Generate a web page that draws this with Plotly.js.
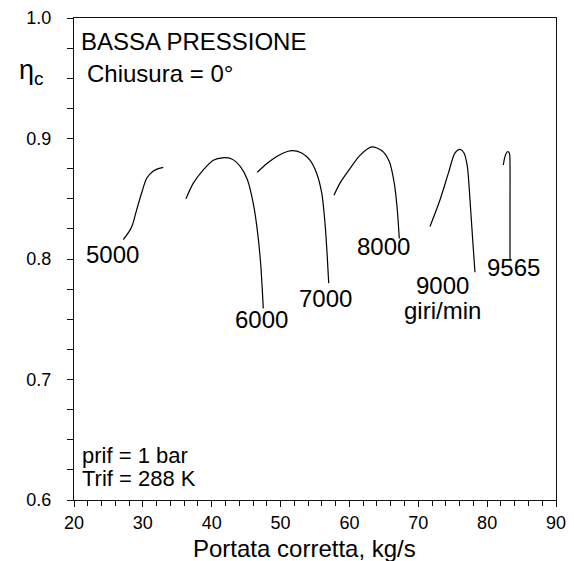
<!DOCTYPE html>
<html>
<head>
<meta charset="utf-8">
<script src="https://cdn.plot.ly/plotly-3.0.1.min.js"></script>
<style>
  html, body { margin: 0; padding: 0; background: #fff; }
  #chart { width: 574px; height: 561px; }
</style>
</head>
<body>
<div id="chart"></div>
<script>
// Compressor efficiency vs corrected mass flow, one characteristic per speed line
const flow5000 = [27.16, 28.13, 28.47, 29.11, 29.83, 30.56, 31.52, 32.24, 32.97];
const eta5000  = [0.816, 0.824, 0.828, 0.841, 0.855, 0.867, 0.873, 0.875, 0.876];

const flow6000 = [36.26, 37.33, 38.78, 40.23, 41.59, 42.90, 44.11, 45.17, 46.04, 46.62, 47.11, 47.49];
const eta6000  = [0.850, 0.863, 0.874, 0.882, 0.884, 0.883, 0.877, 0.866, 0.846, 0.824, 0.796, 0.759];

const flow7000 = [46.62, 47.98, 49.44, 50.40, 51.61, 53.07, 54.27, 55.25, 55.97, 56.45, 56.78, 56.99];
const eta7000  = [0.872, 0.879, 0.885, 0.888, 0.890, 0.888, 0.882, 0.871, 0.855, 0.830, 0.802, 0.780];

const flow8000 = [57.76, 58.63, 60.08, 61.53, 63.23, 64.68, 65.79, 66.51, 66.95, 67.24];
const eta8000  = [0.853, 0.863, 0.875, 0.886, 0.893, 0.890, 0.881, 0.863, 0.841, 0.817];

const flow9000 = [71.70, 73.15, 74.36, 75.33, 76.06, 76.64, 77.12, 77.51, 77.90, 78.23];
const eta9000  = [0.827, 0.849, 0.871, 0.888, 0.891, 0.888, 0.877, 0.849, 0.816, 0.789];

const flow9565 = [82.35, 82.59, 82.93, 83.22, 83.32, 83.32, 83.32];
const eta9565  = [0.878, 0.885, 0.889, 0.888, 0.877, 0.849, 0.799];

// speed labels and where they sit
const speedLabels = ['5000', '6000', '7000', '8000', '9000', 'giri/min', '9565'];
const labelFlow   = [25.59, 47.26, 56.52, 65.02, 73.51, 73.51, 83.80];
const labelEta    = [0.804, 0.750, 0.767, 0.810, 0.778, 0.757, 0.793];

const xTicks = [20, 30, 40, 50, 60, 70, 80, 90];
const yTicks = [0.6, 0.7, 0.8, 0.9, 1.0];
const yTickText = ['0.6', '0.7', '0.8', '0.9', '1.0'];

const FONT = 'Liberation Sans, Arial, Helvetica, sans-serif';
const INK = '#111';

const curves = [
  [flow5000, eta5000], [flow6000, eta6000], [flow7000, eta7000],
  [flow8000, eta8000], [flow9000, eta9000], [flow9565, eta9565]
];

const traces = curves.map(([x, y]) => ({
  x: x, y: y, type: 'scatter', mode: 'lines',
  line: { color: '#000', width: 1.2, shape: 'spline', smoothing: 0.8 },
  hoverinfo: 'skip', showlegend: false
}));

const annotations = speedLabels.map((t, i) => ({
  x: labelFlow[i], y: labelEta[i], xref: 'x', yref: 'y',
  text: t, showarrow: false, xanchor: 'center', yanchor: 'middle',
  font: { family: FONT, size: 24, color: '#000' }
}));

function paperNote(text, px, py, size, anchor) {
  return {
    xref: 'paper', yref: 'paper', x: px, y: py, text: text,
    showarrow: false, xanchor: anchor || 'left', yanchor: 'middle',
    font: { family: FONT, size: size, color: '#000' }
  };
}

annotations.push(paperNote('BASSA PRESSIONE', 0.010, 0.952, 24));
annotations.push(paperNote('Chiusura = 0°', 0.022, 0.884, 24));
annotations.push(paperNote('prif = 1 bar', 0.012, 0.093, 22));
annotations.push(paperNote('Trif = 288 K', 0.012, 0.044, 22));
annotations.push(paperNote('η<sub>c</sub>', -0.118, 0.888, 27));
// x-axis title
annotations.push(paperNote('Portata corretta, kg/s', 0.479, -0.100, 24, 'center'));

const axisCommon = {
  showgrid: false, zeroline: false,
  showline: true, linecolor: INK, linewidth: 1, mirror: true,
  ticks: 'outside', ticklen: 6, tickwidth: 1, tickcolor: INK,
  tickfont: { family: FONT, size: 18, color: '#000' }
};

const layout = {
  width: 574, height: 561,
  margin: { l: 74, r: 18, t: 18, b: 61 },
  paper_bgcolor: '#fff', plot_bgcolor: '#fff',
  showlegend: false,
  xaxis: Object.assign({}, axisCommon, {
    range: [20, 90], tickvals: xTicks,
    minor: { dtick: 2, ticks: 'outside', ticklen: 5, tickcolor: INK },
    ticklabelstandoff: 0
  }),
  yaxis: Object.assign({}, axisCommon, {
    range: [0.6, 1.0], tickvals: yTicks, ticktext: yTickText,
    minor: { dtick: 0.025, ticks: 'outside', ticklen: 6, tickcolor: INK },
    ticklabelstandoff: 12
  }),
  annotations: annotations
};

Plotly.newPlot('chart', traces, layout, { staticPlot: true, displayModeBar: false });
</script>
</body>
</html>
